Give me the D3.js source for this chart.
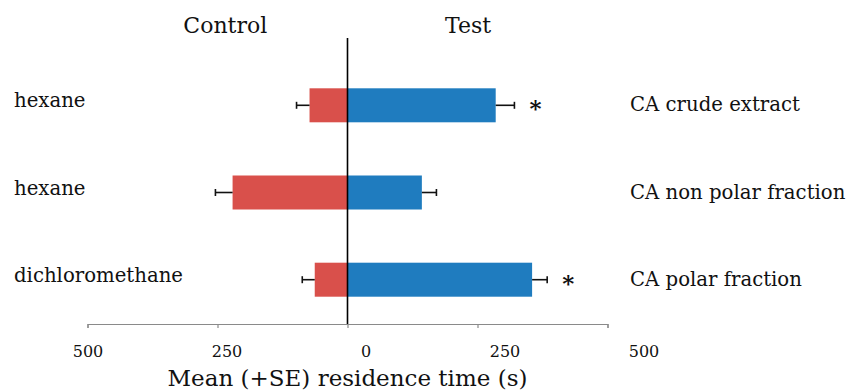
<!DOCTYPE html>
<html>
<head>
<meta charset="utf-8">
<script src="https://cdn.jsdelivr.net/npm/d3@7"></script>
<style>
    body { margin: 0; background: #fff; }
    text { font-family: 'Palatino Linotype', 'Book Antiqua', Palatino, 'DejaVu Serif', serif; fill: #111; }
</style>
</head>
<body>
<div id="chart"></div>
<script>
// data (seconds)
var rows = ['r1', 'r2', 'r3'];
var control_labels = ['hexane', 'hexane', 'dichloromethane'];
var test_labels = ['CA crude extract', 'CA non polar fraction', 'CA polar fraction'];
var control_mean = [73, 221, 63];
var control_se = [25, 33, 24];
var test_mean = [285, 143, 355];
var test_se = [36, 28, 29];
var significant = [true, false, true];
var tick_values = [-500, -250, 0, 250, 500];

var width = 848, height = 392;
var bar_h = 34;

var svg = d3.select('#chart').append('svg')
	.attr('width', width)
	.attr('height', height);

// control goes to the left as negative numbers
var x = d3.scaleLinear().domain([-500, 500]).range([87.5, 607.5]);
// the tick labels sit a little off the ticks in the original, keep that
var x_lab = d3.scaleLinear().domain([-500, 500]).range([88, 644]);
var y = d3.scalePoint().domain(rows).range([105.3, 279.7]);

// horizontal axis
var axis = d3.axisBottom(x)
	.tickValues(tick_values)
	.tickSize(4)
	.tickFormat('');
var ax = svg.append('g')
	.attr('transform', 'translate(0,324)')
	.call(axis);
ax.select('.domain').attr('stroke', '#8a8a8a').attr('stroke-width', 1.2);
ax.selectAll('.tick line').attr('stroke', '#8a8a8a').attr('stroke-width', 1.2);

svg.append('g').selectAll('text')
	.data(tick_values).join('text')
	.attr('x', d => x_lab(d))
	.attr('y', 357)
	.attr('text-anchor', 'middle')
	.style('font-size', '16px')
	.text(d => Math.abs(d));

svg.append('text')
	.attr('x', x(0))
	.attr('y', 386)
	.attr('text-anchor', 'middle')
	.style('font-size', '23px')
	.text('Mean (+SE) residence time (s)');

// bars
var data = rows.map(function (r, i) {
    return {row: r, c: control_mean[i], cse: control_se[i], t: test_mean[i], tse: test_se[i], sig: significant[i]};
});

svg.append('g').selectAll('rect')
	.data(data).join('rect')
	.attr('x', d => x(-d.c))
	.attr('y', d => y(d.row) - bar_h / 2)
	.attr('width', d => x(0) - x(-d.c))
	.attr('height', bar_h)
	.style('fill', '#d9504b');

svg.append('g').selectAll('rect')
	.data(data).join('rect')
	.attr('x', x(0))
	.attr('y', d => y(d.row) - bar_h / 2)
	.attr('width', d => x(d.t) - x(0))
	.attr('height', bar_h)
	.style('fill', '#1f7cbf');

// error bars, outward only
function add_error_bars(get_from, get_to) {
    var g = svg.append('g').attr('stroke', '#111').attr('stroke-width', 1.6);
    g.selectAll('line.stem')
	    .data(data).join('line')
	    .attr('class', 'stem')
	    .attr('x1', d => x(get_from(d)))
	    .attr('x2', d => x(get_to(d)))
	    .attr('y1', d => y(d.row))
	    .attr('y2', d => y(d.row));
    g.selectAll('line.cap')
	    .data(data).join('line')
	    .attr('class', 'cap')
	    .attr('x1', d => x(get_to(d)))
	    .attr('x2', d => x(get_to(d)))
	    .attr('y1', d => y(d.row) - 3.5)
	    .attr('y2', d => y(d.row) + 3.5);
}
add_error_bars(d => -d.c, d => -(d.c + d.cse));
add_error_bars(d => d.t, d => d.t + d.tse);

// asterisks
svg.append('g').selectAll('text')
	.data(data.filter(d => d.sig)).join('text')
	.attr('x', d => x(d.t + d.tse) + 21)
	.attr('y', d => y(d.row) + 11)
	.attr('text-anchor', 'middle')
	.style('font-size', '23px')
	.style('font-weight', 'bold')
	.text('*');

// zero line
svg.append('line')
	.attr('x1', x(0)).attr('x2', x(0))
	.attr('y1', 38).attr('y2', 324)
	.attr('stroke', '#000')
	.attr('stroke-width', 1.6);

// row labels
svg.append('g').selectAll('text')
	.data(data).join('text')
	.attr('x', 14)
	.attr('y', (d, i) => y(d.row) + 2)
	.style('font-size', '19.7px')
	.text((d, i) => control_labels[i]);

svg.append('g').selectAll('text')
	.data(data).join('text')
	.attr('x', 630)
	.attr('y', (d, i) => y(d.row) + 6)
	.style('font-size', '19.7px')
	.text((d, i) => test_labels[i]);

// side headers
svg.append('text')
	.attr('x', x(-235))
	.attr('y', 33)
	.attr('text-anchor', 'middle')
	.style('font-size', '22px')
	.text('Control');
svg.append('text')
	.attr('x', x(232))
	.attr('y', 33)
	.attr('text-anchor', 'middle')
	.style('font-size', '22px')
	.text('Test');
</script>
</body>
</html>
